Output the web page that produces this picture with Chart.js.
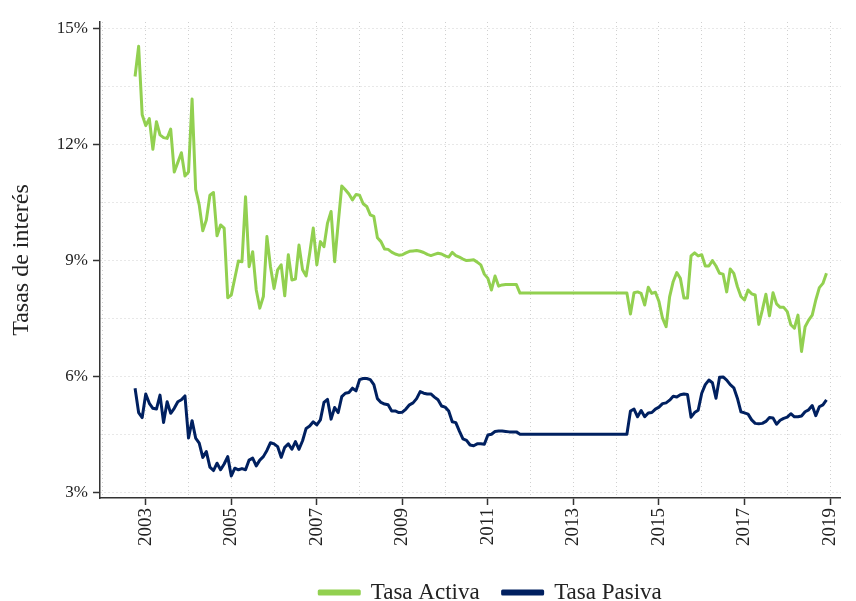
<!DOCTYPE html>
<html>
<head>
<meta charset="utf-8">
<script src="https://cdn.jsdelivr.net/npm/chart.js@4"></script>
<style>
  html, body { margin: 0; padding: 0; background: #ffffff; }
  #wrap { width: 856px; height: 601px; }
</style>
</head>
<body>
<div id="wrap"><canvas id="c" width="856" height="601"></canvas></div>
<script>
// Monthly series, first observation: October 2002, last: December 2018
const startYear = 2002;
const startMonth = 10;

const tasaActiva = [
  13.77, 14.55, 12.78,
  12.50, 12.68, 11.89, 12.60, 12.26, 12.19, 12.17, 12.41, 11.30, 11.55, 11.80, 11.20,
  11.30, 13.19, 10.85, 10.45, 9.78, 10.06, 10.70, 10.77, 9.65, 9.93, 9.85, 8.05,
  8.12, 8.56, 9.00, 8.98, 10.66, 8.85, 9.24, 8.25, 7.78, 8.08, 9.63, 8.85,
  8.29, 8.77, 8.90, 8.10, 9.16, 8.51, 8.53, 9.41, 8.77, 8.61, 9.20, 9.85,
  8.90, 9.50, 9.37, 9.98, 10.28, 8.98, 9.98, 10.94, 10.84, 10.73, 10.58, 10.72,
  10.70, 10.48, 10.41, 10.19, 10.15, 9.60, 9.50, 9.31, 9.30, 9.23, 9.18, 9.15,
  9.16, 9.21, 9.25, 9.26, 9.27, 9.25, 9.22, 9.17, 9.14, 9.17, 9.20, 9.18,
  9.13, 9.10, 9.22, 9.14, 9.10, 9.05, 9.01, 9.02, 9.03, 8.97, 8.90, 8.66,
  8.55, 8.25, 8.61, 8.35, 8.38, 8.39, 8.39, 8.39, 8.39, 8.17, 8.17, 8.17,
  8.17, 8.17, 8.17, 8.17, 8.17, 8.17, 8.17, 8.17, 8.17, 8.17, 8.17, 8.17,
  8.17, 8.17, 8.17, 8.17, 8.17, 8.17, 8.17, 8.17, 8.17, 8.17, 8.17, 8.17,
  8.17, 8.17, 8.17, 8.17, 7.63, 8.18, 8.20, 8.16, 7.86, 8.32, 8.16, 8.19,
  7.95, 7.52, 7.30, 8.08, 8.47, 8.70, 8.55, 8.04, 8.04, 9.13, 9.21, 9.13,
  9.16, 8.87, 8.87, 9.01, 8.87, 8.68, 8.66, 8.20, 8.79, 8.68, 8.34, 8.08,
  7.99, 8.25, 8.15, 8.12, 7.36, 7.73, 8.14, 7.58, 8.18, 7.89, 7.80, 7.80,
  7.69, 7.35, 7.26, 7.60, 6.66, 7.30, 7.47, 7.60, 7.99, 8.31, 8.42, 8.68
];

const tasaPasiva = [
  5.71, 5.08, 4.95,
  5.56, 5.32, 5.19, 5.17, 5.53, 4.82, 5.36, 5.06, 5.19, 5.36, 5.41, 5.51,
  4.42, 4.87, 4.42, 4.29, 3.92, 4.07, 3.67, 3.58, 3.77, 3.60, 3.75, 3.94,
  3.44, 3.64, 3.60, 3.63, 3.60, 3.85, 3.90, 3.70, 3.85, 3.94, 4.10, 4.30,
  4.27, 4.20, 3.92, 4.18, 4.27, 4.13, 4.33, 4.13, 4.35, 4.67, 4.73, 4.84,
  4.76, 4.89, 5.34, 5.42, 4.91, 5.21, 5.08, 5.49, 5.58, 5.60, 5.71, 5.64,
  5.93, 5.96, 5.96, 5.93, 5.80, 5.44, 5.34, 5.30, 5.28, 5.12, 5.12, 5.08,
  5.09, 5.17, 5.28, 5.33, 5.44, 5.62, 5.58, 5.56, 5.56, 5.48, 5.41, 5.25,
  5.22, 5.12, 4.84, 4.82, 4.60, 4.40, 4.36, 4.24, 4.22, 4.27, 4.27, 4.26,
  4.50, 4.52, 4.59, 4.60, 4.60, 4.59, 4.58, 4.58, 4.58, 4.52, 4.52, 4.52,
  4.52, 4.52, 4.52, 4.52, 4.52, 4.52, 4.52, 4.52, 4.52, 4.52, 4.52, 4.52,
  4.52, 4.52, 4.52, 4.52, 4.52, 4.52, 4.52, 4.52, 4.52, 4.52, 4.52, 4.52,
  4.52, 4.52, 4.52, 4.52, 5.12, 5.17, 4.97, 5.13, 4.97, 5.07, 5.08, 5.17,
  5.22, 5.31, 5.33, 5.40, 5.50, 5.48, 5.54, 5.56, 5.55, 4.96, 5.08, 5.14,
  5.58, 5.80, 5.92, 5.85, 5.45, 5.99, 6.00, 5.92, 5.80, 5.72, 5.45, 5.10,
  5.07, 5.04, 4.89, 4.80, 4.79, 4.80, 4.85, 4.95, 4.94, 4.78, 4.88, 4.93,
  4.96, 5.05, 4.97, 4.97, 4.99, 5.10, 5.15, 5.26, 5.00, 5.23, 5.28, 5.41
];

const seriesNames = ['Tasa Activa', 'Tasa Pasiva'];
const seriesColors = ['#92D050', '#002060'];

const xTickLabels = ['2003', '2005', '2007', '2009', '2011', '2013', '2015', '2017', '2019'];
const xGridYears = [2002, 2003, 2004, 2005, 2006, 2007, 2008, 2009, 2010, 2011, 2012, 2013, 2014, 2015, 2016, 2017, 2018, 2019];
const yTickValues = [3, 6, 9, 12, 15];
const yTickLabels = ['3%', '6%', '9%', '12%', '15%'];
const yGridValues = [3, 4.5, 6, 7.5, 9, 10.5, 12, 13.5, 15];
const yTitle = 'Tasas de interés';

function toPoints(values) {
  return values.map((v, i) => ({ x: startYear + (startMonth - 1 + i) / 12, y: v }));
}

const FONT = "'Liberation Serif', 'Times New Roman', serif";
const GRID = '#d0d0d0';
const AXIS = '#333333';
const TEXT = '#222222';

// shift the bottom legend so that it sits where the reference places it
const legendShift = {
  id: 'legendShift',
  afterLayout(chart) {
    if (chart.legend) { chart.legend.left += 68; chart.legend.right += 68; }
  }
};

new Chart(document.getElementById('c'), {
  type: 'line',
  data: {
    datasets: [
      { label: seriesNames[0], data: toPoints(tasaActiva), borderColor: seriesColors[0], backgroundColor: seriesColors[0], borderWidth: 3, pointRadius: 0, tension: 0, borderJoinStyle: 'round' },
      { label: seriesNames[1], data: toPoints(tasaPasiva), borderColor: seriesColors[1], backgroundColor: seriesColors[1], borderWidth: 3, pointRadius: 0, tension: 0, borderJoinStyle: 'round' }
    ]
  },
  plugins: [legendShift],
  options: {
    responsive: false,
    animation: false,
    devicePixelRatio: 1,
    layout: { padding: { top: 22, right: 11, left: 0, bottom: -13 } },
    plugins: {
      legend: {
        position: 'bottom',
        labels: {
          font: { family: FONT, size: 23 },
          color: TEXT,
          boxWidth: 40,
          boxHeight: 3,
          padding: 23
        }
      },
      tooltip: { enabled: false }
    },
    scales: {
      x: {
        type: 'linear',
        min: 2003 - 46 / 43,
        max: 2003 + 699 / 43,
        afterBuildTicks: (scale) => { scale.ticks = xGridYears.map(v => ({ value: v })); },
        afterFit: (scale) => { scale.height = 60; },
        ticks: {
          autoSkip: false,
          maxRotation: 90,
          minRotation: 90,
          padding: 3,
          color: TEXT,
          font: { family: FONT, size: 19 },
          callback: (v) => { const s = String(Math.round(v)); return xTickLabels.includes(s) ? s : ''; }
        },
        grid: {
          color: GRID,
          lineWidth: 1,
          tickLength: 7,
          tickWidth: 1.5,
          tickColor: (ctx) => (ctx.tick && xTickLabels.includes(String(Math.round(ctx.tick.value)))) ? AXIS : 'rgba(0,0,0,0)'
        },
        border: { display: true, color: AXIS, width: 1.5, dash: [1, 3] }
      },
      y: {
        type: 'linear',
        min: 2.87,
        max: 15.18,
        afterBuildTicks: (scale) => { scale.ticks = yGridValues.map(v => ({ value: v })); },
        afterFit: (scale) => { scale.width = 100; },
        ticks: {
          padding: 5,
          color: TEXT,
          font: { family: FONT, size: 17 },
          callback: (v) => { const k = yTickValues.indexOf(v); return k >= 0 ? yTickLabels[k] : ''; }
        },
        grid: {
          color: GRID,
          lineWidth: 1,
          tickLength: 7,
          tickWidth: 1.5,
          tickColor: (ctx) => (ctx.tick && yTickValues.includes(ctx.tick.value)) ? AXIS : 'rgba(0,0,0,0)'
        },
        border: { display: true, color: AXIS, width: 1.5, dash: [1, 3] },
        title: {
          display: true,
          text: yTitle,
          color: TEXT,
          font: { family: FONT, size: 24 },
          padding: { top: 7, bottom: 0 }
        }
      }
    }
  }
});
</script>
</body>
</html>
